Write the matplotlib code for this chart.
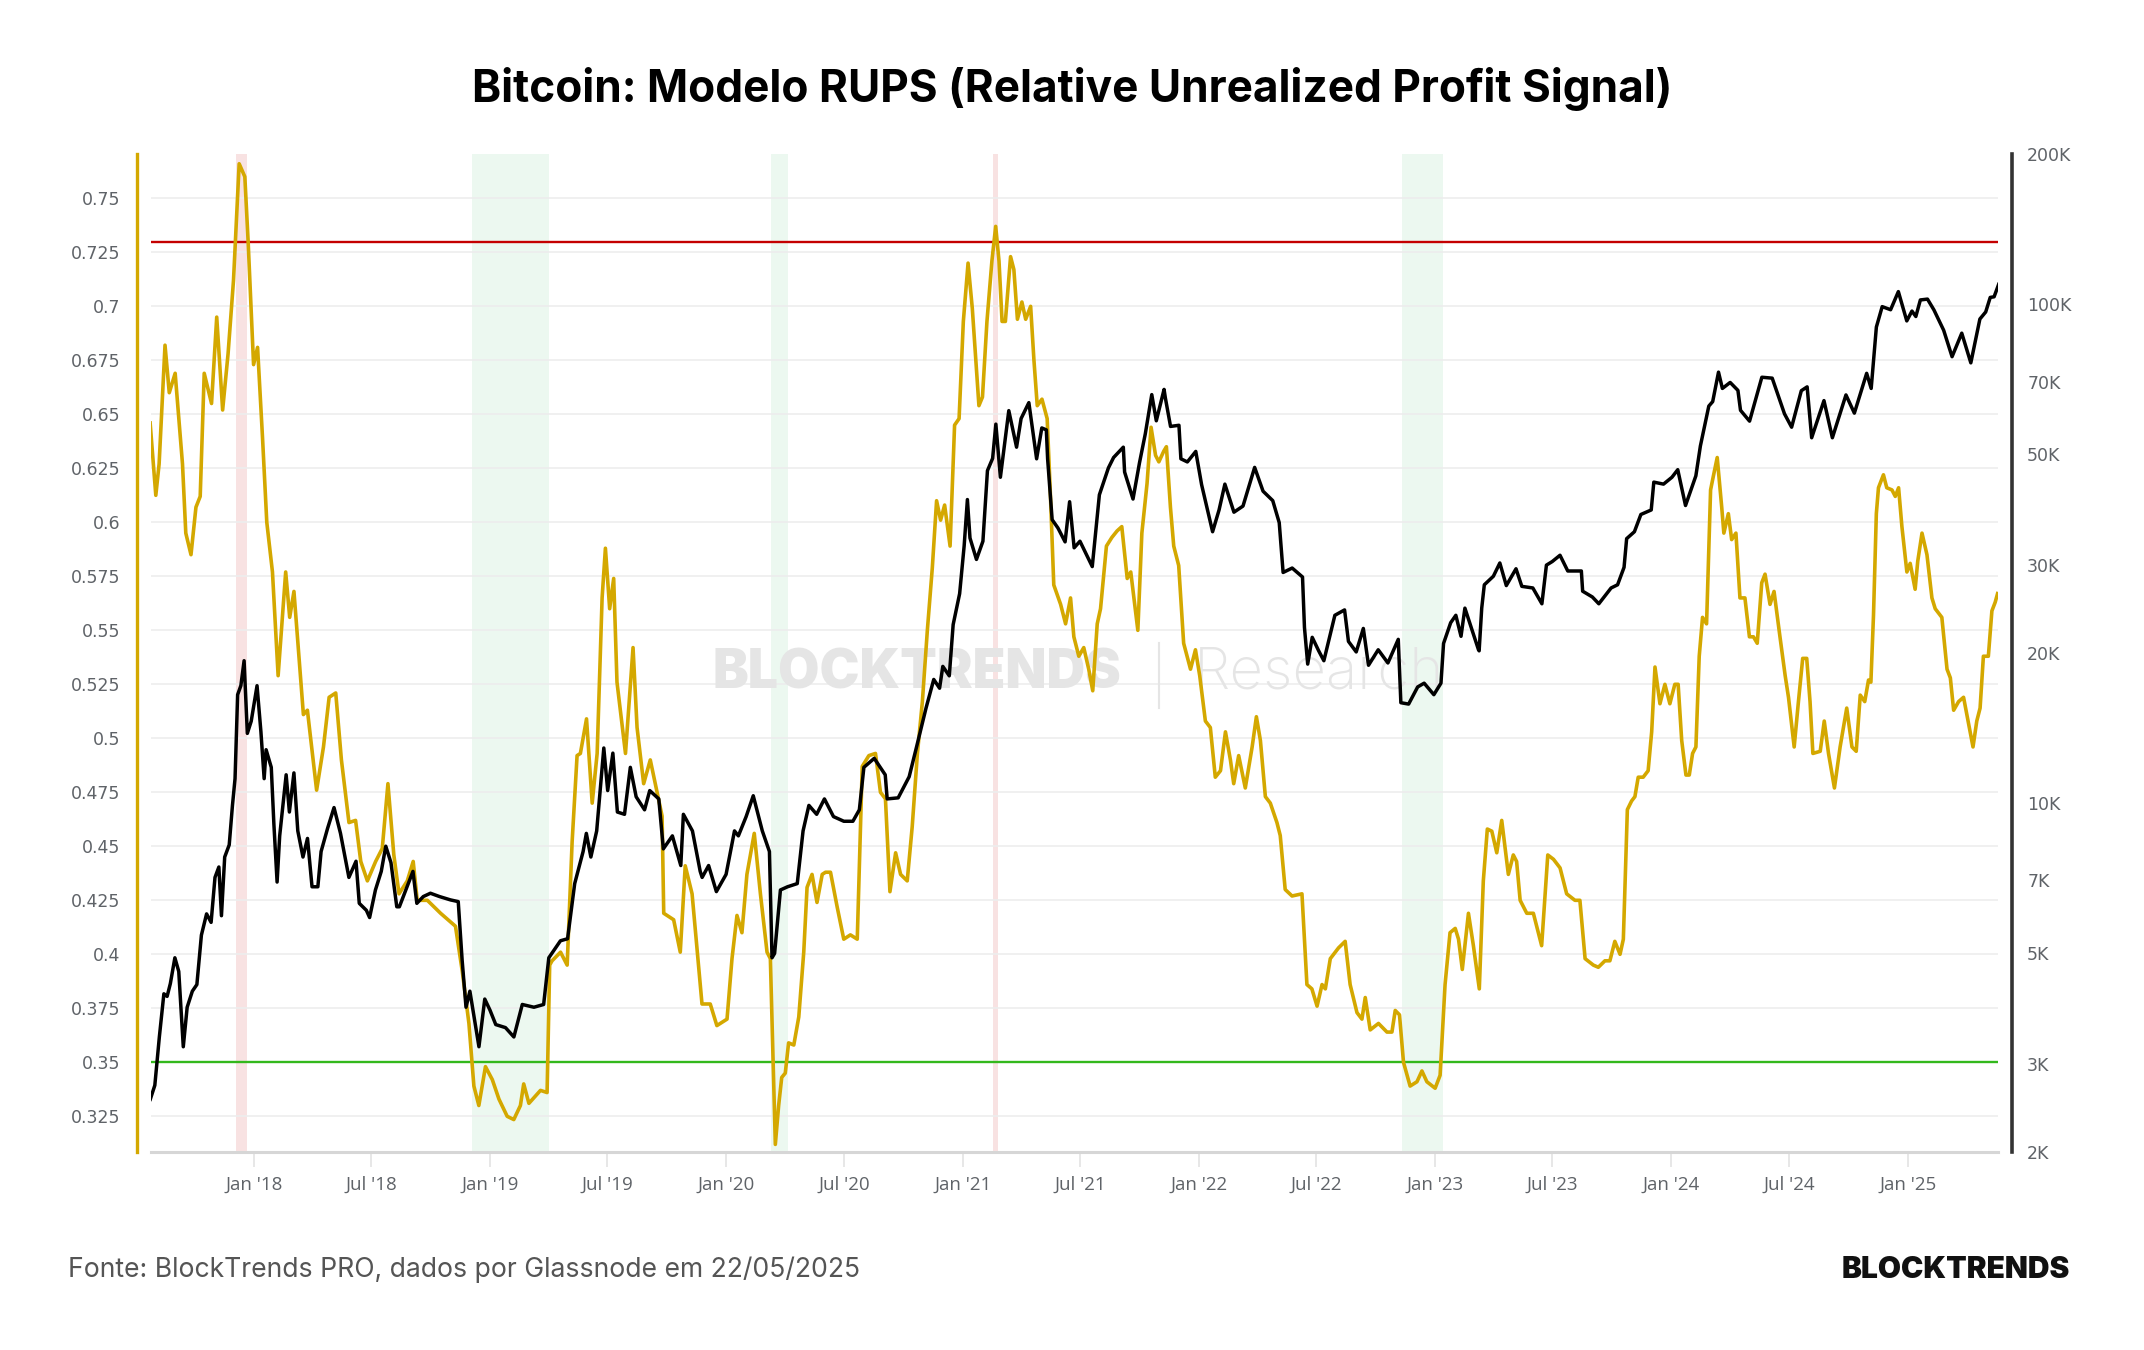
import numpy as np
import pandas as pd
import matplotlib
matplotlib.use("Agg")
import matplotlib.pyplot as plt
import matplotlib.dates as mdates

# ========================
# DATA
# ========================
# RUPS, left axis -- time given as decimal years
rups_year = [
    2017.561, 2017.585, 2017.599, 2017.624, 2017.642, 2017.667, 2017.698, 2017.712, 2017.734, 2017.755,
    2017.773, 2017.790, 2017.821, 2017.843, 2017.868, 2017.891, 2017.914, 2017.938, 2017.962, 2017.976,
    2017.999, 2018.016, 2018.037, 2018.055, 2018.079, 2018.103, 2018.135, 2018.152, 2018.170, 2018.210,
    2018.227, 2018.266, 2018.295, 2018.319, 2018.347, 2018.371, 2018.403, 2018.431, 2018.453, 2018.481,
    2018.516, 2018.544, 2018.568, 2018.593, 2018.615, 2018.650, 2018.675, 2018.692, 2018.735, 2018.791,
    2018.854, 2018.883, 2018.911, 2018.932, 2018.953, 2018.981, 2019.010, 2019.038, 2019.073, 2019.101,
    2019.129, 2019.143, 2019.165, 2019.214, 2019.242, 2019.253, 2019.263, 2019.299, 2019.327, 2019.348,
    2019.369, 2019.383, 2019.409, 2019.433, 2019.454, 2019.475, 2019.489, 2019.507, 2019.524, 2019.538,
    2019.574, 2019.606, 2019.623, 2019.651, 2019.679, 2019.708, 2019.729, 2019.736, 2019.778, 2019.806,
    2019.827, 2019.856, 2019.898, 2019.933, 2019.961, 2020.004, 2020.025, 2020.046, 2020.067, 2020.088,
    2020.119, 2020.145, 2020.173, 2020.187, 2020.208, 2020.222, 2020.235, 2020.250, 2020.264, 2020.286,
    2020.307, 2020.328, 2020.342, 2020.363, 2020.384, 2020.406, 2020.420, 2020.441, 2020.469, 2020.497,
    2020.525, 2020.554, 2020.575, 2020.603, 2020.631, 2020.652, 2020.673, 2020.692, 2020.716, 2020.737,
    2020.765, 2020.786, 2020.808, 2020.829, 2020.850, 2020.871, 2020.889, 2020.906, 2020.923, 2020.946,
    2020.965, 2020.984, 2021.002, 2021.022, 2021.040, 2021.068, 2021.083, 2021.102, 2021.123, 2021.139,
    2021.153, 2021.166, 2021.180, 2021.202, 2021.216, 2021.231, 2021.250, 2021.266, 2021.287, 2021.301,
    2021.315, 2021.335, 2021.357, 2021.371, 2021.385, 2021.414, 2021.435, 2021.456, 2021.470, 2021.491,
    2021.512, 2021.533, 2021.550, 2021.569, 2021.583, 2021.608, 2021.631, 2021.653, 2021.673, 2021.696,
    2021.711, 2021.741, 2021.758, 2021.780, 2021.797, 2021.816, 2021.830, 2021.851, 2021.862, 2021.879,
    2021.893, 2021.914, 2021.935, 2021.964, 2021.985, 2022.003, 2022.027, 2022.048, 2022.069, 2022.091,
    2022.112, 2022.133, 2022.147, 2022.168, 2022.196, 2022.225, 2022.243, 2022.260, 2022.281, 2022.302,
    2022.330, 2022.344, 2022.365, 2022.394, 2022.436, 2022.457, 2022.478, 2022.500, 2022.521, 2022.535,
    2022.556, 2022.577, 2022.591, 2022.619, 2022.640, 2022.669, 2022.690, 2022.704, 2022.725, 2022.760,
    2022.796, 2022.817, 2022.831, 2022.849, 2022.866, 2022.894, 2022.923, 2022.944, 2022.965, 2023.000,
    2023.021, 2023.042, 2023.063, 2023.085, 2023.099, 2023.115, 2023.141, 2023.162, 2023.187, 2023.204,
    2023.221, 2023.240, 2023.261, 2023.282, 2023.310, 2023.331, 2023.345, 2023.360, 2023.388, 2023.416,
    2023.451, 2023.477, 2023.501, 2023.529, 2023.557, 2023.592, 2023.613, 2023.635, 2023.670, 2023.691,
    2023.719, 2023.740, 2023.761, 2023.783, 2023.797, 2023.814, 2023.832, 2023.846, 2023.860, 2023.881,
    2023.902, 2023.917, 2023.931, 2023.952, 2023.973, 2023.994, 2024.015, 2024.029, 2024.044, 2024.062,
    2024.076, 2024.090, 2024.104, 2024.118, 2024.132, 2024.149, 2024.166, 2024.177, 2024.194, 2024.213,
    2024.222, 2024.241, 2024.255, 2024.273, 2024.290, 2024.311, 2024.330, 2024.347, 2024.363, 2024.382,
    2024.396, 2024.417, 2024.434, 2024.459, 2024.481, 2024.495, 2024.519, 2024.537, 2024.555, 2024.572,
    2024.586, 2024.598, 2024.629, 2024.646, 2024.664, 2024.689, 2024.713, 2024.741, 2024.763, 2024.781,
    2024.798, 2024.817, 2024.833, 2024.843, 2024.854, 2024.866, 2024.875, 2024.896, 2024.910, 2024.932,
    2024.946, 2024.960, 2024.974, 2024.995, 2025.009, 2025.030, 2025.041, 2025.059, 2025.080, 2025.101,
    2025.115, 2025.143, 2025.165, 2025.179, 2025.193, 2025.214, 2025.235, 2025.256, 2025.275, 2025.291,
    2025.305, 2025.319, 2025.340, 2025.355, 2025.369, 2025.379,
]
rups_val = [
    0.646, 0.6125, 0.627, 0.682, 0.660, 0.669, 0.627, 0.595, 0.585, 0.607,
    0.612, 0.669, 0.655, 0.695, 0.652, 0.678, 0.712, 0.766, 0.760, 0.730,
    0.673, 0.681, 0.639, 0.600, 0.577, 0.529, 0.577, 0.556, 0.568, 0.511,
    0.513, 0.476, 0.496, 0.519, 0.521, 0.490, 0.461, 0.462, 0.443, 0.434,
    0.443, 0.449, 0.479, 0.446, 0.428, 0.434, 0.443, 0.425, 0.425, 0.419,
    0.413, 0.392, 0.368, 0.339, 0.330, 0.348, 0.342, 0.333, 0.325, 0.3235,
    0.330, 0.340, 0.331, 0.337, 0.336, 0.395, 0.397, 0.401, 0.395, 0.452,
    0.492, 0.493, 0.509, 0.470, 0.493, 0.565, 0.588, 0.560, 0.574, 0.526,
    0.493, 0.542, 0.505, 0.479, 0.490, 0.475, 0.464, 0.419, 0.416, 0.401,
    0.441, 0.428, 0.377, 0.377, 0.367, 0.370, 0.398, 0.418, 0.410, 0.437,
    0.456, 0.428, 0.401, 0.398, 0.312, 0.330, 0.343, 0.345, 0.359, 0.358,
    0.371, 0.401, 0.431, 0.437, 0.424, 0.437, 0.438, 0.438, 0.422, 0.407,
    0.409, 0.407, 0.487, 0.492, 0.493, 0.475, 0.472, 0.429, 0.447, 0.437,
    0.434, 0.459, 0.493, 0.517, 0.550, 0.579, 0.610, 0.601, 0.608, 0.589,
    0.645, 0.648, 0.693, 0.720, 0.699, 0.654, 0.658, 0.693, 0.721, 0.737,
    0.721, 0.693, 0.693, 0.723, 0.717, 0.694, 0.702, 0.694, 0.700, 0.675,
    0.654, 0.657, 0.648, 0.612, 0.571, 0.562, 0.553, 0.565, 0.547, 0.538,
    0.542, 0.532, 0.522, 0.553, 0.560, 0.589, 0.593, 0.596, 0.598, 0.574,
    0.577, 0.550, 0.595, 0.618, 0.644, 0.631, 0.628, 0.633, 0.635, 0.607,
    0.589, 0.580, 0.544, 0.532, 0.541, 0.529, 0.508, 0.505, 0.482, 0.485,
    0.503, 0.490, 0.479, 0.492, 0.477, 0.496, 0.510, 0.499, 0.473, 0.470,
    0.461, 0.455, 0.430, 0.427, 0.428, 0.386, 0.384, 0.376, 0.386, 0.384,
    0.398, 0.401, 0.403, 0.406, 0.386, 0.373, 0.370, 0.380, 0.365, 0.368,
    0.364, 0.364, 0.374, 0.372, 0.350, 0.339, 0.341, 0.346, 0.341, 0.338,
    0.344, 0.386, 0.410, 0.412, 0.407, 0.393, 0.419, 0.404, 0.384, 0.434,
    0.458, 0.457, 0.447, 0.462, 0.437, 0.446, 0.443, 0.425, 0.419, 0.419,
    0.404, 0.446, 0.444, 0.440, 0.428, 0.425, 0.425, 0.398, 0.395, 0.394,
    0.397, 0.397, 0.406, 0.400, 0.407, 0.467, 0.471, 0.473, 0.482, 0.482,
    0.485, 0.503, 0.533, 0.516, 0.525, 0.516, 0.525, 0.525, 0.499, 0.483,
    0.483, 0.493, 0.496, 0.538, 0.556, 0.553, 0.615, 0.621, 0.630, 0.607,
    0.595, 0.604, 0.592, 0.595, 0.565, 0.565, 0.547, 0.547, 0.544, 0.572,
    0.576, 0.562, 0.568, 0.547, 0.529, 0.519, 0.496, 0.517, 0.537, 0.537,
    0.517, 0.493, 0.494, 0.508, 0.493, 0.477, 0.496, 0.514, 0.496, 0.494,
    0.520, 0.517, 0.527, 0.526, 0.557, 0.604, 0.616, 0.622, 0.616, 0.615,
    0.612, 0.616, 0.598, 0.577, 0.581, 0.569, 0.582, 0.595, 0.585, 0.565,
    0.560, 0.556, 0.532, 0.528, 0.513, 0.517, 0.519, 0.507, 0.496, 0.508,
    0.514, 0.538, 0.538, 0.559, 0.563, 0.567,
]

# BTC price, right axis (log)
btc_date = [
    "2017-07-25", "2017-08-01", "2017-08-08", "2017-08-15", "2017-08-20", "2017-08-25", "2017-09-01",
    "2017-09-07", "2017-09-14", "2017-09-20", "2017-09-28", "2017-10-05", "2017-10-12", "2017-10-20",
    "2017-10-27", "2017-11-02", "2017-11-08", "2017-11-12", "2017-11-17", "2017-11-24", "2017-11-29",
    "2017-12-03", "2017-12-07", "2017-12-12", "2017-12-17", "2017-12-22", "2017-12-28", "2018-01-06",
    "2018-01-12", "2018-01-17", "2018-01-20", "2018-01-28", "2018-02-01", "2018-02-06", "2018-02-10",
    "2018-02-20", "2018-02-25", "2018-03-04", "2018-03-10", "2018-03-18", "2018-03-25", "2018-04-01",
    "2018-04-10", "2018-04-15", "2018-04-25", "2018-05-05", "2018-05-15", "2018-05-28", "2018-06-08",
    "2018-06-13", "2018-06-24", "2018-06-29", "2018-07-08", "2018-07-17", "2018-07-24", "2018-08-01",
    "2018-08-10", "2018-08-14", "2018-08-24", "2018-09-04", "2018-09-10", "2018-09-20", "2018-10-01",
    "2018-10-15", "2018-11-01", "2018-11-13", "2018-11-19", "2018-11-25", "2018-12-01", "2018-12-15",
    "2018-12-24", "2019-01-01", "2019-01-10", "2019-01-25", "2019-02-07", "2019-02-20", "2019-03-10",
    "2019-03-25", "2019-04-02", "2019-04-20", "2019-05-01", "2019-05-12", "2019-05-25", "2019-05-30",
    "2019-06-06", "2019-06-15", "2019-06-26", "2019-07-02", "2019-07-10", "2019-07-17", "2019-07-28",
    "2019-08-06", "2019-08-15", "2019-08-28", "2019-09-05", "2019-09-19", "2019-09-26", "2019-10-10",
    "2019-10-23", "2019-10-27", "2019-11-10", "2019-11-22", "2019-11-25", "2019-12-05", "2019-12-17",
    "2020-01-01", "2020-01-14", "2020-01-20", "2020-02-01", "2020-02-12", "2020-02-26", "2020-03-08",
    "2020-03-12", "2020-03-16", "2020-03-25", "2020-04-05", "2020-04-20", "2020-04-29", "2020-05-08",
    "2020-05-20", "2020-06-01", "2020-06-15", "2020-07-01", "2020-07-15", "2020-07-25", "2020-08-01",
    "2020-08-17", "2020-09-03", "2020-09-06", "2020-09-23", "2020-10-10", "2020-10-21", "2020-11-05",
    "2020-11-17", "2020-11-26", "2020-12-01", "2020-12-11", "2020-12-17", "2020-12-27", "2021-01-03",
    "2021-01-08", "2021-01-12", "2021-01-22", "2021-02-01", "2021-02-08", "2021-02-16", "2021-02-21",
    "2021-02-28", "2021-03-13", "2021-03-25", "2021-04-01", "2021-04-13", "2021-04-25", "2021-05-03",
    "2021-05-10", "2021-05-12", "2021-05-19", "2021-05-28", "2021-06-08", "2021-06-15", "2021-06-22",
    "2021-07-01", "2021-07-20", "2021-07-31", "2021-08-14", "2021-08-22", "2021-09-06", "2021-09-08",
    "2021-09-21", "2021-10-01", "2021-10-10", "2021-10-20", "2021-10-27", "2021-11-08", "2021-11-10",
    "2021-11-18", "2021-12-01", "2021-12-04", "2021-12-14", "2021-12-27", "2022-01-05", "2022-01-22",
    "2022-02-01", "2022-02-10", "2022-02-24", "2022-03-10", "2022-03-28", "2022-04-10", "2022-04-25",
    "2022-05-05", "2022-05-11", "2022-05-25", "2022-06-10", "2022-06-13", "2022-06-18", "2022-06-25",
    "2022-07-05", "2022-07-13", "2022-07-30", "2022-08-14", "2022-08-20", "2022-09-01", "2022-09-12",
    "2022-09-20", "2022-10-05", "2022-10-20", "2022-11-05", "2022-11-09", "2022-11-21", "2022-12-05",
    "2022-12-15", "2022-12-30", "2023-01-10", "2023-01-14", "2023-01-25", "2023-02-02", "2023-02-10",
    "2023-02-16", "2023-03-09", "2023-03-10", "2023-03-14", "2023-03-18", "2023-04-01", "2023-04-11",
    "2023-04-21", "2023-05-06", "2023-05-15", "2023-06-01", "2023-06-15", "2023-06-22", "2023-07-01",
    "2023-07-13", "2023-07-25", "2023-08-15", "2023-08-17", "2023-09-01", "2023-09-11", "2023-09-30",
    "2023-10-10", "2023-10-20", "2023-10-24", "2023-11-05", "2023-11-15", "2023-12-01", "2023-12-05",
    "2023-12-20", "2024-01-02", "2024-01-11", "2024-01-23", "2024-02-08", "2024-02-15", "2024-02-28",
    "2024-03-05", "2024-03-14", "2024-03-20", "2024-04-01", "2024-04-13", "2024-04-17", "2024-05-01",
    "2024-05-20", "2024-06-05", "2024-06-24", "2024-07-05", "2024-07-20", "2024-07-29", "2024-08-05",
    "2024-08-24", "2024-09-06", "2024-09-27", "2024-10-10", "2024-10-29", "2024-11-05", "2024-11-13",
    "2024-11-22", "2024-12-05", "2024-12-17", "2024-12-30", "2025-01-07", "2025-01-13", "2025-01-20",
    "2025-01-31", "2025-02-10", "2025-02-25", "2025-03-10", "2025-03-25", "2025-04-08", "2025-04-22",
    "2025-05-01", "2025-05-08", "2025-05-14", "2025-05-21",
]
btc_price = [
    2550, 2720, 3400, 4150, 4100, 4350, 4900,
    4600, 3250, 3900, 4200, 4330, 5440, 6000,
    5770, 7100, 7450, 5950, 7800, 8250, 9900,
    11200, 16500, 17200, 19300, 13800, 14600, 17200,
    13900, 11200, 12800, 11800, 9100, 6950, 8600,
    11400, 9600, 11500, 8800, 7800, 8500, 6800,
    6800, 8000, 8900, 9800, 8700, 7100, 7650,
    6300, 6100, 5900, 6700, 7300, 8200, 7600,
    6200, 6200, 6700, 7300, 6300, 6500, 6600,
    6500, 6400, 6350, 4850, 3900, 4200, 3250,
    4050, 3850, 3600, 3550, 3400, 3950, 3900,
    3950, 4900, 5300, 5350, 6900, 8000, 8700,
    7800, 8800, 12900, 10600, 12600, 9600, 9500,
    11800, 10300, 9700, 10600, 10200, 8100, 8600,
    7500, 9500, 8800, 7300, 7100, 7500, 6650,
    7200, 8800, 8600, 9400, 10350, 8800, 8000,
    4900, 5000, 6700, 6800, 6900, 8800, 9900,
    9500, 10200, 9400, 9200, 9200, 9700, 11800,
    12300, 11400, 10200, 10250, 11300, 12900, 15500,
    17700, 17000, 18800, 18000, 22800, 26300, 32800,
    40600, 34000, 30800, 33500, 46400, 49100, 57500,
    45000, 61200, 51700, 59000, 63500, 49000, 56500,
    56000, 49000, 37000, 35600, 33400, 40200, 32500,
    33500, 29800, 41500, 47000, 49300, 51700, 46100,
    40700, 48100, 55000, 65900, 58400, 67500, 64900,
    56900, 57200, 49000, 48300, 50700, 43500, 35000,
    38700, 43600, 38300, 39400, 47100, 42200, 40400,
    36500, 29000, 29600, 28400, 22500, 19000, 21500,
    20200, 19300, 23800, 24400, 21100, 20100, 22400,
    18900, 20300, 19100, 21300, 15900, 15800, 17100,
    17400, 16500, 17400, 20900, 23000, 23800, 21600,
    24600, 20300, 20200, 24600, 27400, 28500, 30300,
    27300, 29500, 27200, 27000, 25100, 30000, 30500,
    31400, 29200, 29200, 26600, 25900, 25100, 27000,
    27400, 29700, 33900, 35000, 37900, 38700, 44000,
    43600, 45000, 46600, 39500, 45300, 52000, 62500,
    63800, 73100, 67800, 69700, 67200, 61300, 58300,
    71400, 71100, 60300, 56700, 67100, 68300, 54000,
    64100, 54000, 65800, 60500, 72700, 67800, 90000,
    98900, 97500, 106000, 92600, 96900, 94500, 102000,
    102400, 97400, 88700, 78500, 87500, 76300, 93400,
    96500, 103200, 103500, 109600,
]

# signal zones
red_zones = [("2017-12-04", "2017-12-22"), ("2021-02-17", "2021-02-25")]
green_zones = [("2018-12-05", "2019-04-03"), ("2020-03-11", "2020-04-05"),
               ("2022-11-10", "2023-01-13")]
top_level = 0.73
bottom_level = 0.35

rups_ticks = [0.325, 0.35, 0.375, 0.4, 0.425, 0.45, 0.475, 0.5, 0.525, 0.55,
              0.575, 0.6, 0.625, 0.65, 0.675, 0.7, 0.725, 0.75]
price_ticks = [2000, 3000, 5000, 7000, 10000, 20000, 30000, 50000, 70000, 100000, 200000]
price_labels = ["2K", "3K", "5K", "7K", "10K", "20K", "30K", "50K", "70K", "100K", "200K"]


def dec_to_date(y):
    yr = int(y)
    start = pd.Timestamp(yr, 1, 1)
    end = pd.Timestamp(yr + 1, 1, 1)
    return start + (end - start) * (y - yr)


rups_dates = [dec_to_date(y) for y in rups_year]
btc_dates = pd.to_datetime(btc_date)

YELLOW = "#d4a800"
GRID = "#ededed"
TICKC = "#5f6368"

# ========================
# FIGURE
# ========================
fig = plt.figure(figsize=(21.44, 13.5), dpi=100)
fig.patch.set_facecolor("white")
ax = fig.add_axes([0.0704, 0.1467, 0.8615, 0.7392])
ax2 = ax.twinx()

# zones
for a, b in red_zones:
    ax.axvspan(pd.Timestamp(a), pd.Timestamp(b), color="#f8e2e2", lw=0, zorder=0)
for a, b in green_zones:
    ax.axvspan(pd.Timestamp(a), pd.Timestamp(b), color="#ecf8f0", lw=0, zorder=0)

ax.axhline(top_level, color="#c40000", lw=1.7, zorder=2)
ax.axhline(bottom_level, color="#33b81c", lw=1.7, zorder=2)

ax.plot(rups_dates, rups_val, color=YELLOW, lw=2.6, zorder=3)
ax2.plot(btc_dates, btc_price, color="black", lw=2.5, zorder=3)

# watermark
ax.text(0.4147, 0.479, "BLOCKTRENDS", transform=ax.transAxes, ha="center", va="center",
        fontsize=38.5, fontweight="black", family="Inter", color="#e5e5e5", zorder=1)
ax.plot([0.5457, 0.5457], [0.445, 0.51], transform=ax.transAxes, color="#e5e5e5",
        lw=1.5, zorder=1)
ax.text(0.5647, 0.479, "Research", transform=ax.transAxes, ha="left", va="center",
        fontsize=42, fontweight="light", family="Inter", color="#e5e5e5", zorder=1)

# left axis
ax.set_ylim(0.3085, 0.7705)
ax.set_yticks(rups_ticks)
ax.set_yticklabels([f"{v:g}" for v in rups_ticks])
ax.yaxis.grid(True, color=GRID, lw=1.2)
ax.set_axisbelow(True)
ax.tick_params(axis="y", length=0, pad=12, labelsize=12.5, labelcolor=TICKC)
for lab in ax.get_yticklabels():
    lab.set_family("Open Sans")

# right axis
ax2.set_yscale("log")
ax2.set_ylim(2000, 200000)
ax2.set_yticks(price_ticks)
ax2.set_yticklabels(price_labels)
ax2.minorticks_off()
ax2.tick_params(axis="y", length=0, pad=11, labelsize=12.5, labelcolor=TICKC)
for lab in ax2.get_yticklabels():
    lab.set_family("Open Sans")

# x axis
ax.set_xlim(pd.Timestamp("2017-07-26"), pd.Timestamp("2025-05-20"))
ax.xaxis.set_major_locator(mdates.MonthLocator(bymonth=[1, 7]))
ax.xaxis.set_major_formatter(mdates.DateFormatter("%b '%y"))
ax.tick_params(axis="x", length=11, width=1.2, color="#e3e3e3", pad=6,
               labelsize=13.5, labelcolor=TICKC)
for lab in ax.get_xticklabels():
    lab.set_family("Open Sans")

# spines
for s in ["top", "right"]:
    ax.spines[s].set_visible(False)
for s in ["top", "left", "bottom"]:
    ax2.spines[s].set_visible(False)
ax.spines["left"].set_position(("outward", 10))
ax.spines["left"].set_color(YELLOW)
ax.spines["left"].set_linewidth(2.4)
ax.spines["bottom"].set_color("#d6d6d6")
ax.spines["bottom"].set_linewidth(2.2)
ax2.spines["right"].set_position(("outward", 10))
ax2.spines["right"].set_color("#333333")
ax2.spines["right"].set_linewidth(2.6)

# texts
fig.text(0.5, 0.934, "Bitcoin: Modelo RUPS (Relative Unrealized Profit Signal)",
         ha="center", va="center", fontsize=31.8, fontweight="bold", family="Inter",
         color="black")
fig.text(0.0317, 0.0593, "Fonte: BlockTrends PRO, dados por Glassnode em 22/05/2025",
         ha="left", va="center", fontsize=19.1, family="Inter", color="#555555")
fig.text(0.9655, 0.0593, "BLOCKTRENDS", ha="right", va="center", fontsize=21.5,
         fontweight="black", family="Inter", color="#111111")

fig.savefig("out.png", dpi=100, facecolor="white")
